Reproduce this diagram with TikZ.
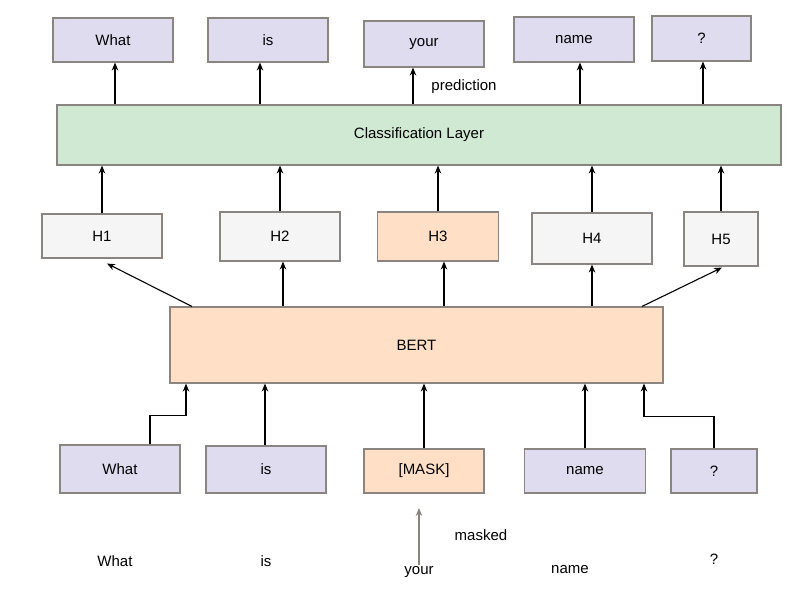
\documentclass[tikz,border=0pt]{standalone}
\usepackage{fontspec}
\setmainfont{Liberation Sans}
\usetikzlibrary{arrows.meta}
\definecolor{wordfill}{HTML}{DFDCF0}
\definecolor{maskfill}{HTML}{FFE0C7}
\definecolor{clsfill}{HTML}{D0E9D3}
\definecolor{hidfill}{HTML}{F5F5F5}
\definecolor{edgegray}{HTML}{8A8580}
\begin{document}
\begin{tikzpicture}[x=1pt,y=-1pt,
        every node/.style={font=\fontsize{15}{18}\selectfont,inner sep=1pt},
        box/.style={draw=edgegray,line width=1.1pt,inner sep=0pt},
        word/.style={box,fill=wordfill},
        hid/.style={box,fill=hidfill},
        mask/.style={box,fill=maskfill},
        arr/.style={-{Stealth[length=8pt,width=6.5pt]},line width=1.1pt}]
        \useasboundingbox (0,0) rectangle (803,604);
        %% predicted words
        \node[word,minimum width=120,minimum height=44] (t1) at (113,40) {What};
        \node[word,minimum width=120,minimum height=44] (t2) at (268,40) {is};
        \node[word,minimum width=120,minimum height=46] (t3) at (424,44) {your};
        \node[word,minimum width=120,minimum height=45] (t4) at (574,39.5) {name};
        \node[word,minimum width=99,minimum height=45] (t5) at (701.5,38.5) {?};
        \node (pred) at (464,87) {prediction};
        %% classification layer
        \node[box,fill=clsfill,minimum width=724,minimum height=60] (cls) at (419,135) {Classification Layer};
        \foreach \n/\x in {t1/115,t2/260,t3/413,t4/580,t5/703}
            \draw[arr] (cls.north -| \x,0) -- (\n.south -| \x,0);
        %% hidden states
        \node[hid,minimum width=120,minimum height=44] (h1) at (102,236) {H1};
        \node[hid,minimum width=120,minimum height=49] (h2) at (280,236.5) {H2};
        \node[mask,minimum width=121,minimum height=49] (h3) at (438,236.5) {H3};
        \node[hid,minimum width=120,minimum height=51] (h4) at (592,238.5) {H4};
        \node[hid,minimum width=74,minimum height=54] (h5) at (721,239) {H5};
        \foreach \i in {1,...,5}
            \draw[arr] (h\i.north) -- (h\i.north |- cls.south);
        %% BERT
        \node[mask,minimum width=493,minimum height=76] (bert) at (416.5,345) {BERT};
        \draw[arr] (bert.north -| 192,0) -- ([xshift=5pt,yshift=-5pt]h1.south);
        \foreach \n/\x in {h2/283,h3/444,h4/592}
            \draw[arr] (bert.north -| \x,0) -- (\n.south -| \x,0);
        \draw[arr] (bert.north -| 642,0) -- ([xshift=1pt,yshift=-1pt]h5.south);
        %% masked input
        \node[word,minimum width=120,minimum height=48] (in1) at (120,469) {What};
        \node[word,minimum width=120,minimum height=47] (in2) at (266,469.5) {is};
        \node[mask,minimum width=120,minimum height=44] (in3) at (424,471) {[MASK]};
        \node[word,minimum width=121,minimum height=44] (in4) at (585,471) {name};
        \node[word,minimum width=86,minimum height=44] (in5) at (714,471) {?};
        \draw[arr] (in1.north -| 150,0) -- ++(0,-29) -| (bert.south -| 186,0);
        \draw[arr] (in2.north -| 265,0) -- (bert.south -| 265,0);
        \draw[arr] (in3.north) -- (bert.south -| in3);
        \draw[arr] (in4.north) -- (bert.south -| in4);
        \draw[arr] (in5.north) -- ++(0,-32) -| (bert.south -| 644,0);
        %% original sentence
        \node (w1) at (115,561) {What};
        \node (w2) at (266,561) {is};
        \node (w3) at (419,572) {your};
        \node (w4) at (570,570) {name};
        \node (w5) at (714,559) {?};
        \node (mk) at (481,535) {masked};
        \coordinate (mtip) at (419,508);
        \draw[arr,draw=edgegray] (w3.north) -- (mtip);
    \end{tikzpicture}
\end{document}
